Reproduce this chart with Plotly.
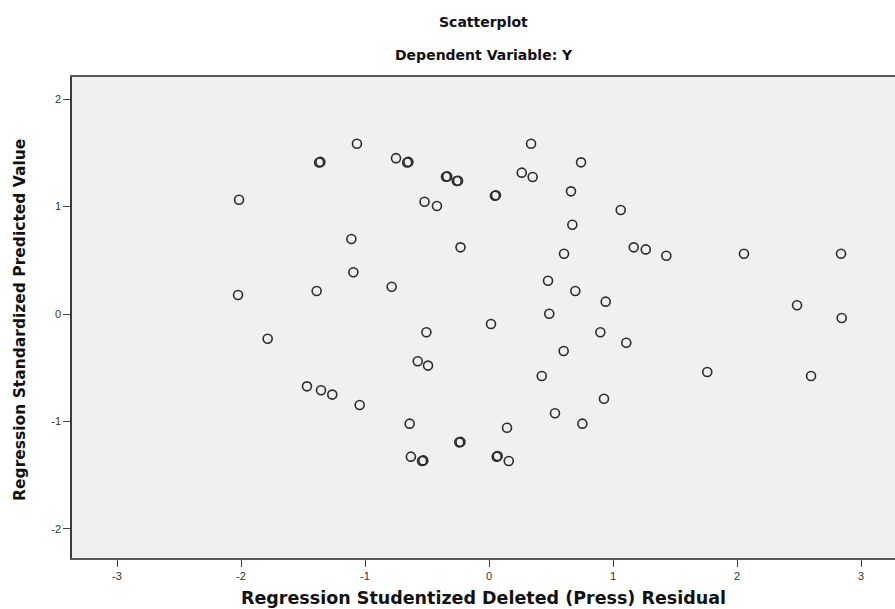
import plotly.graph_objects as go

# Regression Studentized Deleted (Press) Residual
x_resid = [-1.065, -1.37, -1.36, -0.75, -0.66, -0.65, -0.347, -0.337, -0.26, -0.25,
           0.048, 0.056, -2.016, -0.52, -0.42, -1.11, -0.23, -1.094, -0.785, -1.39,
           -2.024, 0.339, 0.742, 0.264, 0.352, 0.661, 1.062, 0.672, 1.167, 1.264,
           0.605, 1.43, 2.056, 2.839, 0.476, 0.696, 0.941, 2.484, 0.486, 2.844,
           0.016, 0.898, -1.785, -0.505, -0.575, -0.492, -1.468, -1.355, -1.264, -1.043,
           -0.64, -0.24, -0.23, -0.63, -0.54, -0.53, 0.062, 0.07, 1.107, 0.602,
           0.425, 1.76, 2.597, 0.927, 0.532, 0.753, 0.145, 0.159]
# Regression Standardized Predicted Value
y_pred = [1.584, 1.41, 1.415, 1.45, 1.41, 1.415, 1.277, 1.28, 1.237, 1.24,
          1.10, 1.105, 1.063, 1.045, 1.005, 0.698, 0.62, 0.388, 0.254, 0.214,
          0.177, 1.584, 1.411, 1.315, 1.274, 1.141, 0.967, 0.831, 0.62, 0.601,
          0.561, 0.542, 0.561, 0.561, 0.31, 0.214, 0.115, 0.081, 0.003, -0.037,
          -0.093, -0.17, -0.23, -0.17, -0.44, -0.48, -0.673, -0.71, -0.75, -0.847,
          -1.02, -1.194, -1.19, -1.327, -1.367, -1.362, -1.327, -1.322, -0.267, -0.344,
          -0.577, -0.54, -0.577, -0.788, -0.924, -1.02, -1.058, -1.367]

tick_vals_x = [-3, -2, -1, 0, 1, 2, 3]
tick_vals_y = [-2, -1, 0, 1, 2]

TITLE_FONT = "DejaVu Sans, Verdana, sans-serif"
TICK_FONT = "Liberation Sans Narrow, Liberation Sans, Arial, sans-serif"

fig = go.Figure()
fig.add_trace(go.Scatter(
    x=x_resid, y=y_pred, mode="markers",
    marker=dict(symbol="circle-open", size=9, color="#2b2b2b",
                line=dict(width=1.6, color="#2b2b2b")),
    showlegend=False, hoverinfo="x+y"))

fig.update_layout(
    width=895, height=609,
    margin=dict(l=72, r=0, t=77, b=51),
    paper_bgcolor="white",
    plot_bgcolor="#f0f0f0",
    font=dict(family=TICK_FONT, color="#333333", size=11),
    xaxis=dict(range=[-3.363, 3.274], tickvals=tick_vals_x, ticktext=[str(v) for v in tick_vals_x],
               showgrid=False, zeroline=False, showline=True, linecolor="#5a5a5a", linewidth=1.5,
               mirror=True, ticks="outside", ticklen=7, tickcolor="#444444",
               tickfont=dict(size=11, color="#333333", family=TICK_FONT)),
    yaxis=dict(range=[-2.27, 2.205], tickvals=tick_vals_y, ticktext=[str(v) for v in tick_vals_y],
               showgrid=False, zeroline=False, showline=True, linecolor="#3a3a3a", linewidth=1.5,
               mirror=False, ticks="outside", ticklen=7, tickcolor="#444444",
               tickfont=dict(size=11, color="#333333", family=TICK_FONT)),
    annotations=[
        dict(text="<b>Scatterplot</b>", xref="paper", yref="paper", x=0.5, y=1,
             xanchor="center", yanchor="middle", yshift=55, showarrow=False,
             font=dict(size=14, color="#111111", family=TITLE_FONT)),
        dict(text="<b>Dependent Variable: Y</b>", xref="paper", yref="paper", x=0.5, y=1,
             xanchor="center", yanchor="middle", yshift=22, showarrow=False,
             font=dict(size=14, color="#111111", family=TITLE_FONT)),
        dict(text="<b>Regression Studentized Deleted (Press) Residual</b>", xref="paper", yref="paper",
             x=0.5, y=0, xanchor="center", yanchor="middle", yshift=-40, showarrow=False,
             font=dict(size=17.5, color="#111111", family=TITLE_FONT)),
        dict(text="<b>Regression Standardized Predicted Value</b>", xref="paper", yref="paper",
             x=0, y=0.495, xanchor="center", yanchor="middle", xshift=-52, textangle=-90,
             showarrow=False, font=dict(size=15.5, color="#111111", family=TITLE_FONT)),
    ],
)

fig.write_html(
    "out.html",
    config={"displayModeBar": False},
    post_script=("document.documentElement.style.margin='0';"
                 "document.body.style.margin='0';"
                 "document.documentElement.style.overflow='hidden';"
                 "document.body.style.overflow='hidden';"),
)
